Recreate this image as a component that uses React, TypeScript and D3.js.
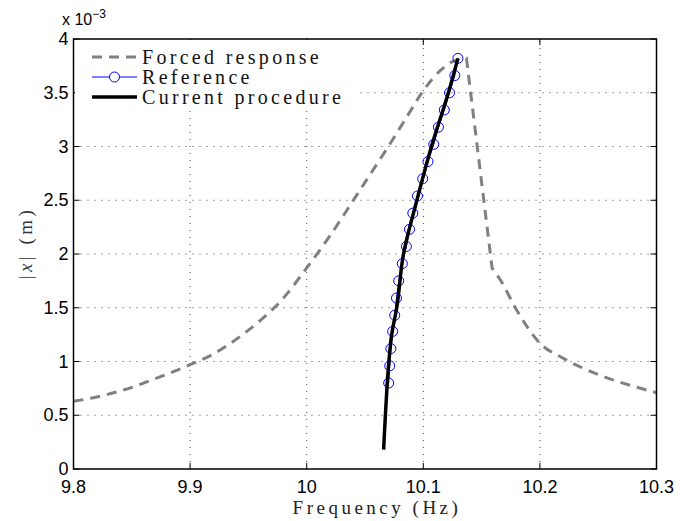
import React from "react";
import * as d3 from "d3";

const xTicks = [9.8, 9.9, 10.0, 10.1, 10.2, 10.3];
const xTickLabels = ["9.8", "9.9", "10", "10.1", "10.2", "10.3"];
const yTicks = [0, 0.5, 1, 1.5, 2, 2.5, 3, 3.5, 4];
const yTickLabels = ["0", "0.5", "1", "1.5", "2", "2.5", "3", "3.5", "4"];

// Forced response (x 1e-3 m): upper branch up to the jump, then lower branch
const forcedUpFreq = [9.8, 9.82, 9.85, 9.87, 9.9, 9.92, 9.945, 9.96, 9.98, 10.0, 10.02, 10.04, 10.055, 10.07, 10.085, 10.1, 10.115, 10.125, 10.137];
const forcedUpAmp = [0.63, 0.67, 0.76, 0.84, 0.97, 1.07, 1.25, 1.38, 1.59, 1.87, 2.17, 2.5, 2.75, 3.0, 3.26, 3.52, 3.71, 3.79, 3.82];
const forcedLowFreq = [10.159, 10.166, 10.18, 10.2, 10.22, 10.25, 10.28, 10.3];
const forcedLowAmp = [1.87, 1.76, 1.48, 1.17, 1.03, 0.88, 0.77, 0.71];

// Reference (circles)
const refFreq = [10.0703, 10.0712, 10.0722, 10.0737, 10.0755, 10.077, 10.0789, 10.082, 10.0855, 10.0882, 10.091, 10.095, 10.0995, 10.104, 10.109, 10.113, 10.118, 10.1225, 10.127, 10.1297];
const refAmp = [0.8, 0.96, 1.12, 1.28, 1.43, 1.59, 1.75, 1.91, 2.07, 2.23, 2.38, 2.54, 2.7, 2.86, 3.02, 3.18, 3.34, 3.5, 3.66, 3.82];

// Current procedure
const curFreq = [10.066, 10.0665, 10.0675, 10.0688, 10.0705, 10.0729, 10.0772, 10.083, 10.0945, 10.107, 10.1215, 10.1297];
const curAmp = [0.18, 0.3, 0.5, 0.75, 1.0, 1.25, 1.5, 2.0, 2.5, 3.0, 3.5, 3.82];

const legendLabels = ["Forced response", "Reference", "Current procedure"];

const W = 680;
const H = 521;
const L = 73.5, R = 656.5, T = 39, B = 469;

export default function App() {
  const x = d3.scaleLinear().domain([9.8, 10.3]).range([L, R]);
  const y = d3.scaleLinear().domain([0, 4]).range([B, T]);
  const line = d3
    .line<[number, number]>()
    .x((d) => x(d[0]))
    .y((d) => y(d[1]));
  const smoothX = d3
    .line<[number, number]>()
    .x((d) => x(d[0]))
    .y((d) => y(d[1]))
    .curve(d3.curveMonotoneX);
  const curveLine = d3
    .line<[number, number]>()
    .x((d) => x(d[0]))
    .y((d) => y(d[1]))
    .curve(d3.curveMonotoneY);

  const up: [number, number][] = forcedUpFreq.map((f, i) => [f, forcedUpAmp[i]]);
  const low: [number, number][] = forcedLowFreq.map((f, i) => [f, forcedLowAmp[i]]);
  const forcedPath = (smoothX(up) || "") + (smoothX(low) || "").replace(/^M/, "L");
  const ref: [number, number][] = refFreq.map((f, i) => [f, refAmp[i]]);
  const cur: [number, number][] = curFreq.map((f, i) => [f, curAmp[i]]);

  const sans = "'Liberation Sans', Arial, Helvetica, sans-serif";
  const serif = "'Liberation Serif', 'Times New Roman', serif";
  const gridStyle = { stroke: "#444", strokeWidth: 1, strokeDasharray: "1,6" };

  const legY = [57, 77, 97];

  return (
    <div style={{ position: "absolute", left: 0, top: 0 }}>
      <svg width={W} height={H} style={{ display: "block", background: "#fff" }}>
        <rect x={0} y={0} width={W} height={H} fill="#fff" />
        {/* grid */}
        {xTicks.slice(1, -1).map((t) => (
          <line key={"gx" + t} x1={x(t)} x2={x(t)} y1={B} y2={T} style={gridStyle} />
        ))}
        {yTicks.slice(1, -1).map((t) => (
          <line key={"gy" + t} x1={L} x2={R} y1={y(t)} y2={y(t)} style={gridStyle} />
        ))}
        {/* ticks */}
        {xTicks.map((t) => (
          <g key={"tx" + t}>
            <line x1={x(t)} x2={x(t)} y1={B} y2={B - 6} stroke="#000" />
            <line x1={x(t)} x2={x(t)} y1={T} y2={T + 6} stroke="#000" />
          </g>
        ))}
        {yTicks.map((t) => (
          <g key={"ty" + t}>
            <line x1={L} x2={L + 6} y1={y(t)} y2={y(t)} stroke="#000" />
            <line x1={R} x2={R - 6} y1={y(t)} y2={y(t)} stroke="#000" />
          </g>
        ))}
        {/* curves */}
        <path d={forcedPath} fill="none" stroke="#808080" strokeWidth={3} strokeDasharray="10,7" />
        <path d={line(ref) || ""} fill="none" stroke="#0000ff" strokeWidth={1} />
        {ref.map((d, i) => (
          <circle key={"c" + i} cx={x(d[0])} cy={y(d[1])} r={5} fill="none" stroke="#0000ff" strokeWidth={1} />
        ))}
        <path d={curveLine(cur) || ""} fill="none" stroke="#000" strokeWidth={3.5} />

        {/* legend */}
        <rect x={L + 1.5} y={T + 1} width={284} height={67} fill="#fff" />
        <line x1={92} x2={137} y1={legY[0]} y2={legY[0]} stroke="#808080" strokeWidth={3} strokeDasharray="10,7" />
        <line x1={92} x2={137} y1={legY[1]} y2={legY[1]} stroke="#0000ff" strokeWidth={1} />
        <circle cx={114.5} cy={legY[1]} r={5} fill="#fff" stroke="#0000ff" strokeWidth={1} />
        <line x1={92} x2={137} y1={legY[2]} y2={legY[2]} stroke="#000" strokeWidth={3.5} />
        {legendLabels.map((s, i) => (
          <text key={s} x={142} y={legY[i] + 6.5} fontFamily={serif} fontSize={20} letterSpacing={3.3} fill="#111">
            {s}
          </text>
        ))}

        {/* axes box */}
        <rect x={L} y={T} width={R - L} height={B - T} fill="none" stroke="#000" strokeWidth={1.5} />

        {/* tick labels */}
        {xTicks.map((t, i) => (
          <text key={"lx" + t} x={x(t)} y={B + 24} textAnchor="middle" fontFamily={sans} fontSize={18} fill="#000">
            {xTickLabels[i]}
          </text>
        ))}
        {yTicks.map((t, i) => (
          <text key={"ly" + t} x={L - 5} y={y(t) + 6} textAnchor="end" fontFamily={sans} fontSize={18} fill="#000">
            {yTickLabels[i]}
          </text>
        ))}
        {/* exponent */}
        <text x={62} y={25} fontFamily={sans} fontSize={16} fill="#000">
          x 10
          <tspan dy={-7} fontSize={12}>−3</tspan>
        </text>

        {/* axis labels */}
        <text x={377} y={514} textAnchor="middle" fontFamily={serif} fontSize={19} letterSpacing={3.5} fill="#222">
          Frequency (Hz)
        </text>
        <text
          transform={`translate(32, 243) rotate(-90)`}
          textAnchor="middle"
          fontFamily={serif}
          fontSize={19}
          letterSpacing={3.5}
          fill="#333"
        >
          |<tspan fontStyle="italic">x</tspan>| (m)
        </text>
      </svg>
    </div>
  );
}
